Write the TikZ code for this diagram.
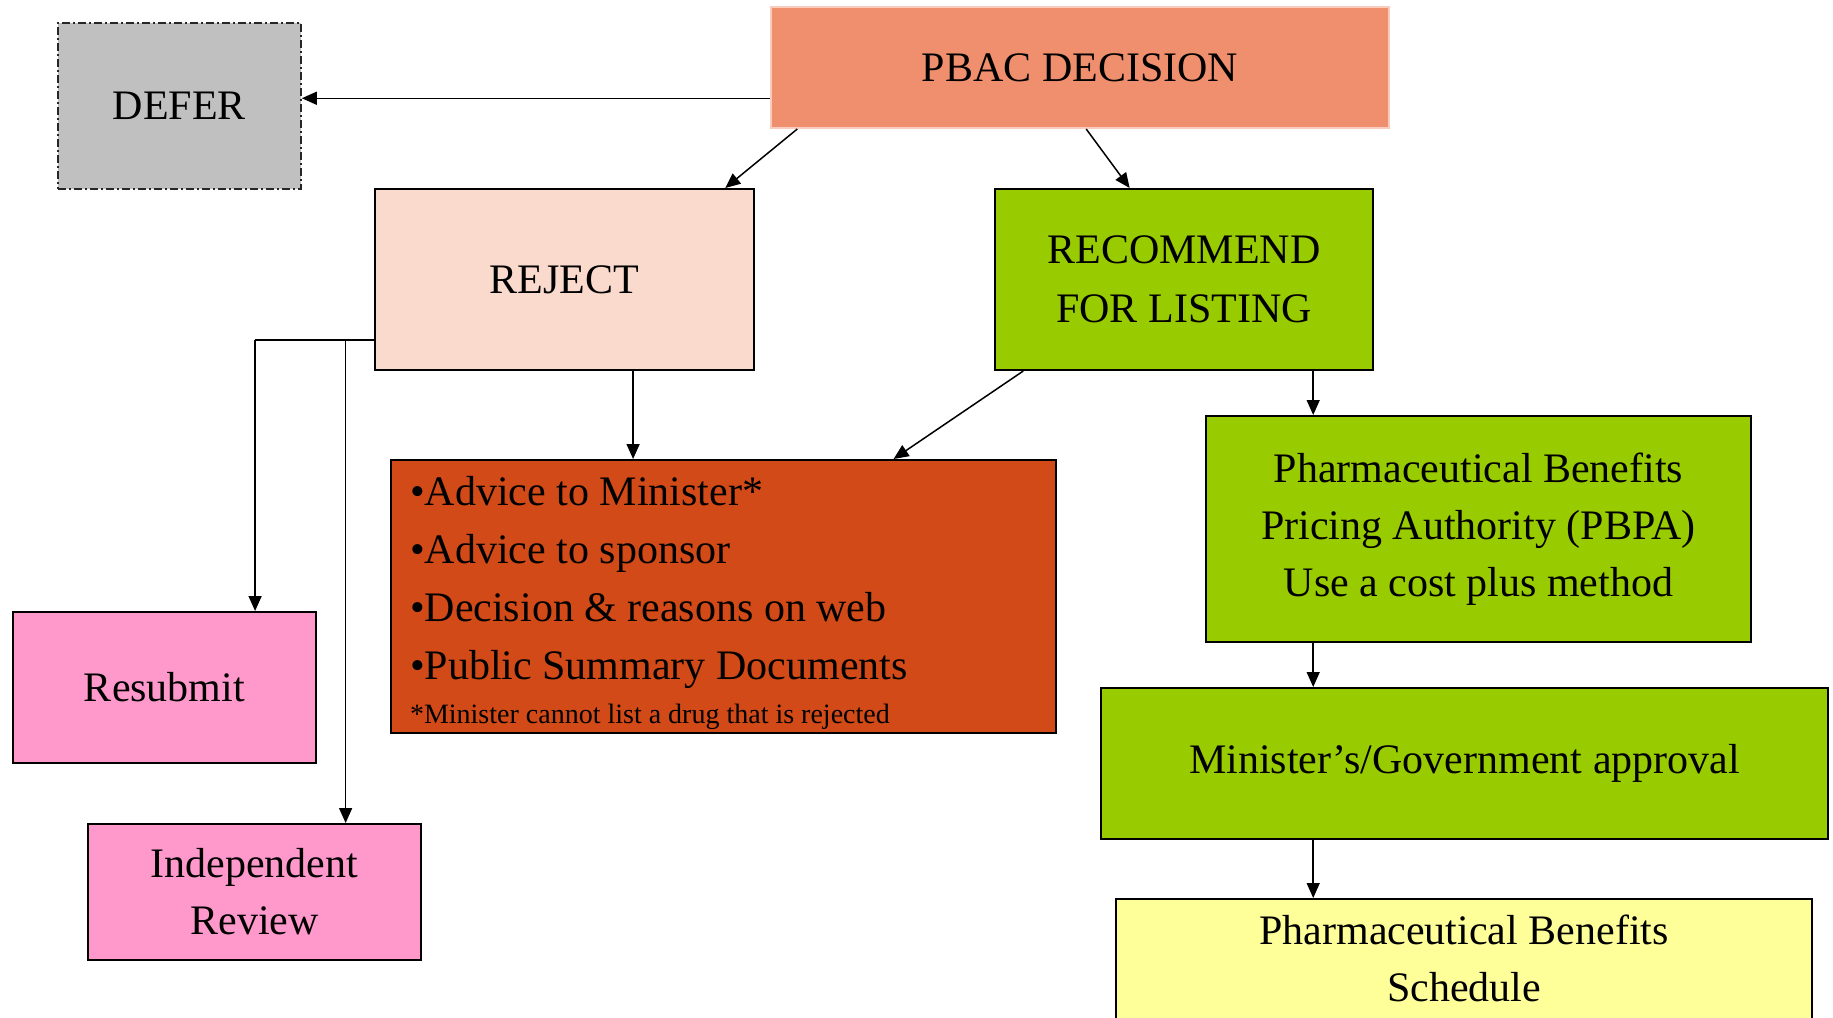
\documentclass[tikz,border=0pt]{standalone}
\usepackage{fontspec}
\setmainfont{Liberation Serif}
\usetikzlibrary{calc,arrows.meta}
\definecolor{pbacC}{HTML}{F08F6E}
\definecolor{pbacB}{HTML}{F9CDBE}
\definecolor{deferC}{HTML}{C0C0C0}
\definecolor{rejC}{HTML}{F9DACD}
\definecolor{grnC}{HTML}{99CC00}
\definecolor{advC}{HTML}{D24A18}
\definecolor{pinkC}{HTML}{FF99CC}
\definecolor{ylwC}{HTML}{FFFF99}
\begin{document}
\begin{tikzpicture}[x=0.5pt,y=-0.5pt,
  box/.style={draw=black,line width=1pt,inner sep=0pt,align=center,font=\fontsize{21}{28.5}\selectfont},
  arr/.style={-{Triangle[length=7.5pt,width=6.5pt]},line width=0.75pt}]
\useasboundingbox (0,0) rectangle (1833,1018);
\clip (0,0) rectangle (1833,1018);
\node[box,fill=deferC,draw=black!85,line width=0.8pt,dash pattern=on 4pt off 1.5pt on 1pt off 1.5pt,minimum width=121.5pt,minimum height=83pt] (defer) at (179.5,106) {DEFER};
\node[box,fill=pbacC,draw=pbacB,minimum width=309pt,minimum height=60.5pt] (pbac) at (1080,67.5) {PBAC DECISION};
\node[box,fill=rejC,minimum width=189.5pt,minimum height=90.5pt] (reject) at (564.5,279.5) {REJECT};
\node[box,fill=grnC,minimum width=189pt,minimum height=90.5pt,font=\fontsize{21}{29.5}\selectfont] (rec) at (1184,279.5) {RECOMMEND\\FOR LISTING};
\node[box,fill=advC,minimum width=332.5pt,minimum height=136.5pt,text width=313.5pt,align=left,font=\fontsize{21}{29}\selectfont] (advice) at (723.5,596.5) {\spaceskip=0pt\xspaceskip=0pt\relax \rule{0pt}{21pt}•Advice to Minister*\\•Advice to sponsor\\•Decision \& reasons on web\\•Public Summary Documents\\[-7.25pt]{\fontsize{14}{29}\selectfont *Minister cannot list a drug that is rejected}};
\node[box,fill=grnC,minimum width=272.5pt,minimum height=113pt] (pbpa) at (1478.5,529) {Pharmaceutical Benefits\\Pricing Authority (PBPA)\\Use a cost plus method};
\node[box,fill=grnC,minimum width=363.5pt,minimum height=75.5pt] (minister) at (1464.5,763.5) {Minister’s/Government approval};
\node[box,fill=pinkC,minimum width=151.5pt,minimum height=75.5pt] (resubmit) at (164.5,687.5) {Resubmit};
\node[box,fill=pinkC,minimum width=166.5pt,minimum height=68pt] (ir) at (254.5,892) {Independent\\Review};
\node[box,fill=ylwC,minimum width=348pt,minimum height=80.5pt] (pbs) at (1464,979.5) {};
\node[font=\fontsize{21}{28.5}\selectfont,align=center,inner sep=0pt] (pbstext) at (1464,958) {Pharmaceutical Benefits\\Schedule};
% connectors
\coordinate (pd) at ($(pbac.south west)!0.25!(pbac.north west)$);
\draw[arr] (pd) -- (defer.east |- pd);
\draw[arr] ($(pbac.south west)!0.044!(pbac.south east)$) -- ($(reject.north west)!0.922!(reject.north east)$);
\draw[arr] ($(pbac.south west)!0.51!(pbac.south east)$) -- ($(rec.north west)!0.357!(rec.north east)$);
\coordinate (rjb) at ($(reject.south west)!0.68!(reject.south east)$);
\draw[arr] (rjb) -- (rjb |- advice.north);
\draw[arr] ($(rec.south west)!0.077!(rec.south east)$) -- ($(advice.north west)!0.755!(advice.north east)$);
\coordinate (rb) at ($(rec.south west)!0.84!(rec.south east)$);
\draw[arr] (rb) -- (rb |- pbpa.north);
\draw[arr] (rb |- pbpa.south) -- (rb |- minister.north);
\draw[arr] (rb |- minister.south) -- (rb |- pbs.north);
\coordinate (rw) at ($(reject.south west)!0.168!(reject.north west)$);
\coordinate (rsub) at ($(resubmit.north west)!0.797!(resubmit.north east)$);
\coordinate (irt) at ($(ir.north west)!0.772!(ir.north east)$);
\draw[line width=1pt] (rw) -- (rw -| rsub);
\draw[arr] (rw -| rsub) -- (rsub);
\draw[arr] (rw -| irt) -- (irt);
\end{tikzpicture}
\end{document}
